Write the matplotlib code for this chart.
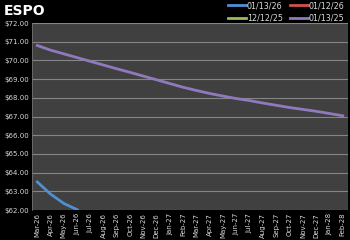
import matplotlib
matplotlib.use("Agg")
import matplotlib.pyplot as plt

months = ["Mar-26", "Apr-26", "May-26", "Jun-26", "Jul-26", "Aug-26", "Sep-26", "Oct-26",
          "Nov-26", "Dec-26", "Jan-27", "Feb-27", "Mar-27", "Apr-27", "May-27", "Jun-27",
          "Jul-27", "Aug-27", "Sep-27", "Oct-27", "Nov-27", "Dec-27", "Jan-28", "Feb-28"]
s_0113_26 = [63.50, 62.85, 62.35, 62.02]
s_0112_26 = []
s_1212_25 = []
s_0113_25 = [70.80, 70.55, 70.35, 70.15, 69.95, 69.75, 69.55, 69.36, 69.16, 68.96,
             68.76, 68.56, 68.39, 68.23, 68.09, 67.96, 67.85, 67.72, 67.60, 67.48,
             67.38, 67.28, 67.16, 67.04]
yticks = [62, 63, 64, 65, 66, 67, 68, 69, 70, 71, 72]

fig = plt.figure(figsize=(3.5, 2.4), dpi=100, facecolor="black")
ax = fig.add_axes([0.0914, 0.125, 0.903, 0.779])
ax.set_facecolor("#404040")

lw = 2.0
h1, = ax.plot(range(len(s_0113_26)), s_0113_26, color="#4f8fd6", lw=lw, label="01/13/26")
h2, = ax.plot(range(len(s_0112_26)), s_0112_26, color="#d0504d", lw=lw, label="01/12/26")
h3, = ax.plot(range(len(s_1212_25)), s_1212_25, color="#9bbb59", lw=lw, label="12/12/25")
h4, = ax.plot(range(len(s_0113_25)), s_0113_25, color="#9179bd", lw=lw, label="01/13/25")

ax.set_ylim(62, 72)
ax.set_xlim(-0.4, len(months) - 0.6)
ax.set_yticks(yticks)
ax.set_yticklabels([f"${v:.2f}" for v in yticks])
ax.set_xticks(range(len(months)))
ax.set_xticklabels(months, rotation=90)
ax.tick_params(colors="#d9d9d9", labelsize=5, length=0, pad=2)
ax.grid(axis="y", color="#858585", lw=0.8)
ax.set_axisbelow(True)
for s in ax.spines.values():
    s.set_visible(False)
ax.spines["left"].set_visible(True)
ax.spines["left"].set_color("#707070")
ax.spines["left"].set_linewidth(0.6)

fig.text(0.01, 0.955, "ESPO", color="white", fontsize=10, fontweight="bold", va="center", ha="left")
leg = fig.legend([h1, h3, h2, h4], ["01/13/26", "12/12/25", "01/12/26", "01/13/25"],
                 loc="upper right", bbox_to_anchor=(1.005, 1.025), ncol=2, frameon=False,
                 fontsize=5.8, labelcolor="#d9d9d9", handlelength=2.2, handletextpad=0.1,
                 columnspacing=0.9, labelspacing=0.45)

fig.savefig("out.png", dpi=100, facecolor="black")
